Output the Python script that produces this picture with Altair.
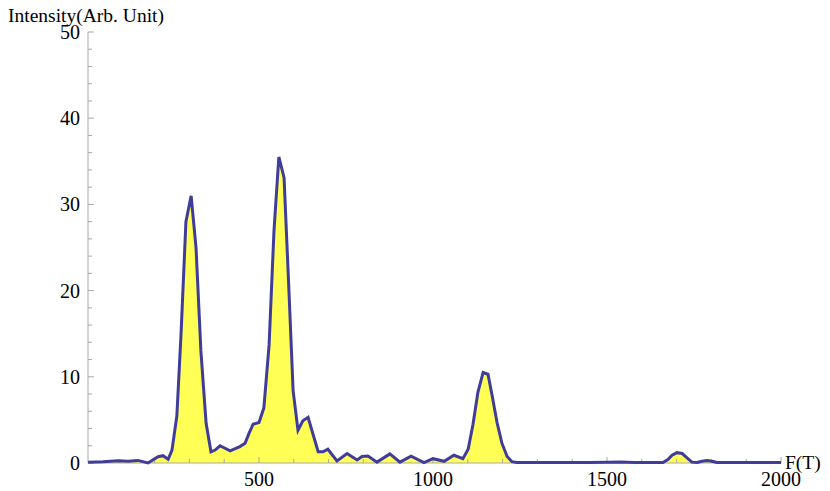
import altair as alt
import pandas as pd

# ---- data ----
freq = [9, 52, 95, 124, 152, 181, 210, 224, 239, 250, 264, 276, 290, 305, 319, 333,
        348, 362, 374, 388, 417, 445, 460, 471, 483, 500, 514, 529, 543, 557, 572,
        586, 598, 612, 626, 641, 670, 684, 698, 724, 753, 782, 796, 813, 839, 876,
        905, 937, 974, 1000, 1032, 1060, 1086, 1101, 1115, 1129, 1144, 1158, 1170,
        1184, 1198, 1213, 1227, 1241, 1350, 1450, 1500, 1540, 1580, 1661, 1675, 1687,
        1701, 1716, 1730, 1744, 1759, 1773, 1787, 1802, 1816, 1900, 2000]
intensity = [0.08, 0.15, 0.27, 0.2, 0.3, 0.0, 0.73, 0.85, 0.43, 1.5, 5.5, 15, 28, 31, 25, 13,
             4.6, 1.3, 1.5, 2.0, 1.4, 1.9, 2.3, 3.4, 4.5, 4.7, 6.4, 13.7, 26.9, 35.5, 33.1,
             20, 8.4, 3.8, 4.9, 5.3, 1.3, 1.3, 1.6, 0.25, 1.1, 0.35, 0.75, 0.8, 0.1, 1.05,
             0.1, 0.8, 0.05, 0.5, 0.2, 0.9, 0.5, 1.6, 4.5, 8.2, 10.5, 10.3, 7.8,
             4.7, 2.3, 0.75, 0.15, 0.05, 0.05, 0.06, 0.1, 0.12, 0.06, 0.05, 0.4, 0.9,
             1.2, 1.1, 0.6, 0.1, 0.05, 0.2, 0.3, 0.2, 0.05, 0.05, 0.05]

x_major = [500, 1000, 1500, 2000]
x_minor = [100, 200, 300, 400, 600, 700, 800, 900, 1100, 1200, 1300, 1400,
           1600, 1700, 1800, 1900]
y_major = [0, 10, 20, 30, 40, 50]
y_minor = [2, 4, 6, 8, 12, 14, 16, 18, 22, 24, 26, 28, 32, 34, 36, 38, 42, 44, 46, 48]

x_label = "F(T)"
y_label = "Intensity(Arb. Unit)"

# ---- layout / style ----
W, H = 693, 431
XMIN, XMAX = 8.6, 2000
GRAY = "#a8a8a8"
FONT = "Liberation Serif"
FS = 20

df = pd.DataFrame({"F": freq, "I": intensity})
xs = alt.Scale(domain=[XMIN, XMAX], nice=False, zero=False)
ys = alt.Scale(domain=[0, 50], nice=False)

area = alt.Chart(df).mark_area(color="#ffff55", opacity=1).encode(
    x=alt.X("F:Q", scale=xs, axis=None),
    y=alt.Y("I:Q", scale=ys, axis=None),
)

line = alt.Chart(df).mark_line(color="#3f3d99", strokeWidth=3, strokeJoin="miter").encode(
    x=alt.X("F:Q", scale=xs, axis=None),
    y=alt.Y("I:Q", scale=ys, axis=None),
)

axes_df = pd.DataFrame({"a": [XMIN], "b": [XMAX], "c": [0], "d": [50]})
x_axis = alt.Chart(axes_df).mark_rule(color=GRAY, strokeWidth=1).encode(
    x=alt.X("a:Q", scale=xs, axis=None), x2="b:Q",
    y=alt.Y("c:Q", scale=ys, axis=None),
)
y_axis = alt.Chart(axes_df).mark_rule(color=GRAY, strokeWidth=1).encode(
    x=alt.X("a:Q", scale=xs, axis=None),
    y=alt.Y("c:Q", scale=ys, axis=None), y2="d:Q",
)

xmaj_df = pd.DataFrame({"v": x_major})
xmin_df = pd.DataFrame({"v": x_minor})
ymaj_df = pd.DataFrame({"v": y_major})
ymin_df = pd.DataFrame({"v": y_minor})

xt_major = alt.Chart(xmaj_df).mark_rule(color=GRAY, strokeWidth=1).encode(
    x=alt.X("v:Q", scale=xs, axis=None), y=alt.value(H), y2=alt.value(H - 6))
xt_minor = alt.Chart(xmin_df).mark_rule(color=GRAY, strokeWidth=1).encode(
    x=alt.X("v:Q", scale=xs, axis=None), y=alt.value(H), y2=alt.value(H - 4))
yt_major = alt.Chart(ymaj_df).mark_rule(color=GRAY, strokeWidth=1).encode(
    y=alt.Y("v:Q", scale=ys, axis=None), x=alt.value(0), x2=alt.value(6))
yt_minor = alt.Chart(ymin_df).mark_rule(color=GRAY, strokeWidth=1).encode(
    y=alt.Y("v:Q", scale=ys, axis=None), x=alt.value(0), x2=alt.value(4))

xt_labels = alt.Chart(xmaj_df).mark_text(
    font=FONT, fontSize=FS, color="black", align="center", baseline="alphabetic"
).encode(x=alt.X("v:Q", scale=xs, axis=None), y=alt.value(H + 23), text="v:Q")

yt_labels = alt.Chart(ymaj_df).mark_text(
    font=FONT, fontSize=FS, color="black", align="right", baseline="alphabetic", dx=-8, dy=7
).encode(y=alt.Y("v:Q", scale=ys, axis=None), x=alt.value(0), text="v:Q")

lab_df = pd.DataFrame({"t": [x_label, y_label]})
xl = alt.Chart(lab_df.iloc[[0]]).mark_text(
    font=FONT, fontSize=19.5, color="black", align="left", baseline="alphabetic"
).encode(x=alt.value(W + 4), y=alt.value(H + 6), text="t:N")
yl = alt.Chart(lab_df.iloc[[1]]).mark_text(
    font=FONT, fontSize=19.5, color="black", align="left", baseline="alphabetic"
).encode(x=alt.value(-80), y=alt.value(-10), text="t:N")

chart = alt.layer(
    area, x_axis, y_axis, xt_minor, xt_major, yt_minor, yt_major, line,
    xt_labels, yt_labels, xl, yl
).properties(
    width=W, height=H,
    autosize=alt.AutoSizeParams(type="none"),
    padding={"left": 80, "top": 24, "right": 41, "bottom": 28},
).configure_view(stroke=None)

chart.save("out.html", embed_options={"renderer": "svg", "actions": False})
